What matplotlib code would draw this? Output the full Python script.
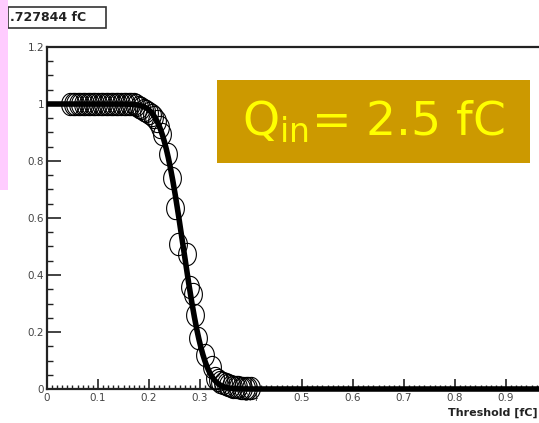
import math
import numpy as np
import matplotlib
matplotlib.use("Agg")
import matplotlib.pyplot as plt
from matplotlib.path import Path
from matplotlib.patches import Rectangle
from matplotlib.ticker import MultipleLocator, FuncFormatter

# ---- data ----
thr_x = [0.045, 0.050, 0.055, 0.060, 0.065, 0.070, 0.075, 0.080, 0.085, 0.090,
         0.095, 0.100, 0.105, 0.110, 0.115, 0.120, 0.125, 0.130, 0.135, 0.140,
         0.145, 0.150, 0.155, 0.160, 0.165, 0.170, 0.175, 0.180, 0.185, 0.190,
         0.195, 0.200, 0.205, 0.210, 0.215, 0.221, 0.226, 0.237, 0.245, 0.251,
         0.257, 0.274, 0.280, 0.286, 0.290, 0.296, 0.310, 0.323, 0.330, 0.335,
         0.340, 0.345, 0.350, 0.355, 0.360, 0.365, 0.370, 0.375, 0.380, 0.385,
         0.390, 0.395, 0.400]
eff_y = [1.00, 1.00, 1.00, 1.00, 1.00, 1.00, 1.00, 1.00, 1.00, 1.00,
         1.00, 1.00, 1.00, 1.00, 1.00, 1.00, 1.00, 1.00, 1.00, 1.00,
         1.00, 1.00, 1.00, 1.00, 1.00, 1.00, 0.995, 0.99, 0.985, 0.98,
         0.975, 0.97, 0.96, 0.955, 0.94, 0.92, 0.895, 0.825, 0.74, 0.636,
         0.51, 0.475, 0.357, 0.335, 0.26, 0.18, 0.12, 0.077, 0.04, 0.03,
         0.025, 0.02, 0.016, 0.013, 0.01, 0.008, 0.007, 0.006, 0.005, 0.004,
         0.003, 0.002, 0.002]

# fit parameters (S-curve, complementary error function)
fit_mean = 0.267
fit_sigma = 0.033

x_ticks = [0, 0.1, 0.2, 0.3, 0.4, 0.5, 0.6, 0.7, 0.8, 0.9]
y_ticks = [0, 0.2, 0.4, 0.6, 0.8, 1.0, 1.2]
title_text = ".727844 fC"
x_label = "Threshold [fC]"
q_label = r"Q$_{\mathregular{in}}$= 2.5 fC"

W, H = 539, 423
fig = plt.figure(figsize=(W / 100, H / 100), dpi=100)
fig.patch.set_facecolor("white")

def fx(px):
    return px / W

def fy(py):
    return 1 - py / H

ax_left, ax_right, ax_top, ax_bot = 47, 557, 47, 389
ax = fig.add_axes([fx(ax_left), fy(ax_bot), (ax_right - ax_left) / W, (ax_bot - ax_top) / H])
ax.set_xlim(0, 1)
ax.set_ylim(0, 1.2)

# fit curve
fit_x = np.linspace(0, 1, 800)
fit_y = [0.5 * math.erfc((v - fit_mean) / (math.sqrt(2) * fit_sigma)) for v in fit_x]
ax.plot(fit_x, fit_y, color="black", lw=4.0, clip_on=False, zorder=3,
        solid_capstyle="butt")

# elliptical open markers
t = np.linspace(0, 2 * np.pi, 60)
ell = Path(np.column_stack([0.8 * np.cos(t), np.sin(t)]), closed=True)
ax.plot(thr_x, eff_y, linestyle="none", marker=ell, markersize=16,
        markerfacecolor="none", markeredgecolor="black", markeredgewidth=0.8,
        clip_on=False, zorder=4)

for s in ["left", "bottom", "top", "right"]:
    ax.spines[s].set_linewidth(1.6)
    ax.spines[s].set_color("#222222")

ax.xaxis.set_minor_locator(MultipleLocator(0.01))
ax.yaxis.set_minor_locator(MultipleLocator(0.05))
ax.set_xticks(x_ticks)
ax.set_yticks(y_ticks)
fmt = FuncFormatter(lambda v, p: ("%g" % round(v, 2)))
ax.xaxis.set_major_formatter(fmt)
ax.yaxis.set_major_formatter(fmt)
ax.tick_params(axis="both", which="both", direction="in", top=False, right=False,
               colors="#222222", labelcolor="#444444", labelsize=7.5)
ax.tick_params(axis="x", which="major", length=7, width=1.2, pad=3)
ax.tick_params(axis="x", which="minor", length=3, width=1.0)
ax.tick_params(axis="y", which="major", length=10, width=1.2, pad=2)
ax.tick_params(axis="y", which="minor", length=4, width=1.0)

fig.text(fx(538), fy(413), x_label, ha="right", va="center",
         fontsize=8, color="#222222", fontweight="bold")

# title box
fig.patches.append(Rectangle((fx(8), fy(28)), (106 - 8) / W, (28 - 7) / H,
                             transform=fig.transFigure, facecolor="white",
                             edgecolor="#333333", lw=1.2, zorder=5))
fig.text(fx(10), fy(17.5), title_text, ha="left", va="center", fontsize=9,
         fontweight="bold", color="#222222", zorder=6)

# pink strip
fig.patches.append(Rectangle((0, fy(190)), 8 / W, 190 / H, transform=fig.transFigure,
                             facecolor="#FFCCFF", edgecolor="none", zorder=7))

# gold label box
fig.patches.append(Rectangle((fx(217), fy(163)), (530 - 217) / W, (163 - 80) / H,
                             transform=fig.transFigure, facecolor="#CC9900",
                             edgecolor="none", zorder=8))
fig.text(fx(373), fy(122), q_label, ha="center", va="center", fontsize=34,
         color="#FFFF00", family="DejaVu Sans", zorder=9)

fig.savefig("out.png", dpi=100)
